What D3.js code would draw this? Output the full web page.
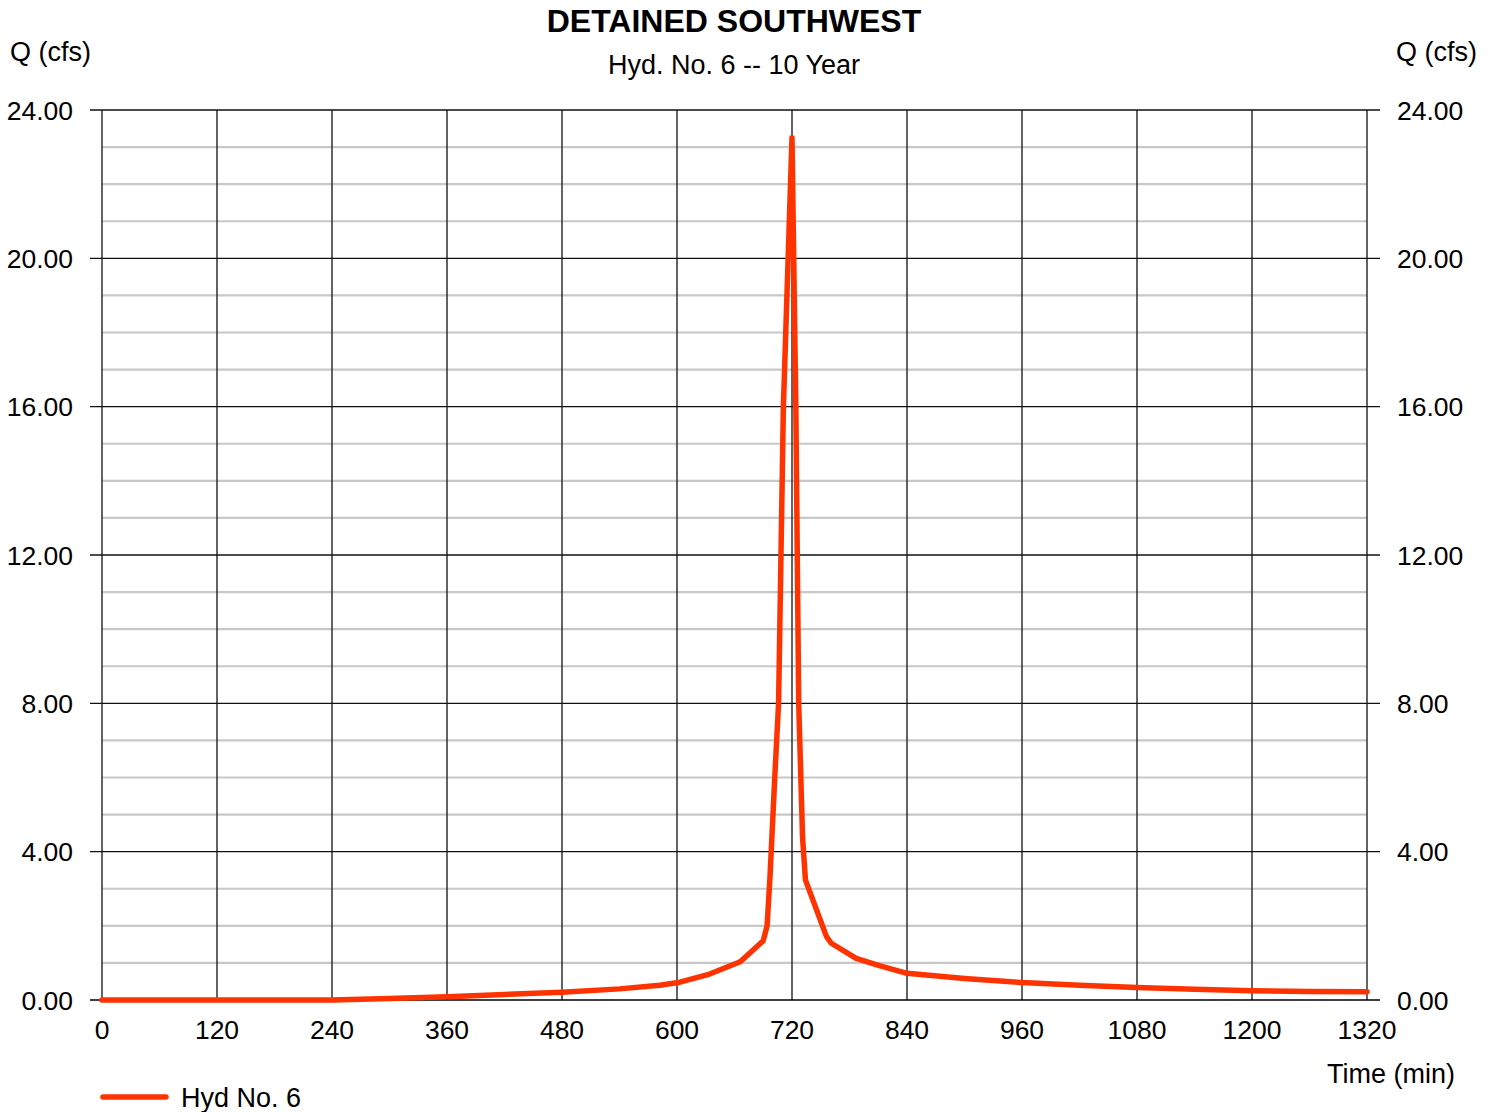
<!DOCTYPE html>
<html>
<head>
<meta charset="utf-8">
<script src="https://cdn.jsdelivr.net/npm/d3@7"></script>
<style>
  html, body { margin: 0; padding: 0; background: #fff; }
  svg { display: block; font-family: "Liberation Sans", Arial, sans-serif; }
</style>
</head>
<body>
<svg id="chart" width="1497" height="1112"></svg>
<script>
// ---- data ----
const times = [0, 120, 240, 300, 360, 420, 480, 540, 582, 603, 634, 666, 690, 694, 697, 702, 706, 711, 720, 724, 727, 731, 734, 756, 761, 787, 812, 840, 900, 960, 1020, 1080, 1140, 1200, 1260, 1320];
const flows = [0, 0, 0, 0.04, 0.09, 0.15, 0.21, 0.30, 0.40, 0.48, 0.70, 1.03, 1.6, 2.0, 3.3, 6.0, 8.0, 16.0, 23.25, 16.0, 8.0, 4.4, 3.24, 1.71, 1.53, 1.12, 0.92, 0.72, 0.58, 0.47, 0.40, 0.34, 0.29, 0.25, 0.23, 0.22];
const xTicks = [0, 120, 240, 360, 480, 600, 720, 840, 960, 1080, 1200, 1320];
const yTicks = [0, 4, 8, 12, 16, 20, 24];
const yMinor = [1, 2, 3, 5, 6, 7, 9, 10, 11, 13, 14, 15, 17, 18, 19, 21, 22, 23];
const title = "DETAINED SOUTHWEST";
const subtitle = "Hyd. No. 6 -- 10 Year";
const yLabel = "Q (cfs)";
const xLabel = "Time (min)";
const seriesName = "Hyd No. 6";
const lineColor = "#ff3300";

// ---- layout ----
const svg = d3.select("#chart");
const L = 102, R = 1367, T = 110, B = 1000;
const x = d3.scaleLinear().domain([0, 1320]).range([L, R]);
const y = d3.scaleLinear().domain([0, 24]).range([B, T]);

// minor horizontal grid
svg.append("g").selectAll("line").data(yMinor).join("line")
  .attr("x1", L).attr("x2", R)
  .attr("y1", d => y(d)).attr("y2", d => y(d))
  .attr("stroke", "#c8c8c8").attr("stroke-width", 2.2);

// vertical grid
svg.append("g").selectAll("line").data(xTicks).join("line")
  .attr("x1", d => x(d)).attr("x2", d => x(d))
  .attr("y1", T).attr("y2", B)
  .attr("stroke", "#222").attr("stroke-width", 1.4);

// major horizontal grid (with outward ticks)
svg.append("g").selectAll("line").data(yTicks).join("line")
  .attr("x1", L - 12).attr("x2", R + 13)
  .attr("y1", d => y(d)).attr("y2", d => y(d))
  .attr("stroke", d => d === 0 ? "#000" : "#111")
  .attr("stroke-width", d => (d === 24 ? 1.6 : 1.3));

// left y labels
svg.append("g").selectAll("text").data(yTicks).join("text")
  .attr("x", 73).attr("y", d => y(d) + 9.5)
  .attr("text-anchor", "end").attr("font-size", 26.5)
  .text(d => d3.format(".2f")(d));

// right y labels
svg.append("g").selectAll("text").data(yTicks).join("text")
  .attr("x", 1397).attr("y", d => y(d) + 9.5)
  .attr("text-anchor", "start").attr("font-size", 26.5)
  .text(d => d3.format(".2f")(d));

// x labels
svg.append("g").selectAll("text").data(xTicks).join("text")
  .attr("x", d => x(d)).attr("y", 1039)
  .attr("text-anchor", "middle").attr("font-size", 26.5)
  .text(d => d);

// hydrograph line
const pts = times.map((t, i) => [t, flows[i]]);
const lineGen = d3.line().x(d => x(d[0])).y(d => y(d[1])).curve(d3.curveLinear);
svg.append("path").datum(pts)
  .attr("fill", "none").attr("stroke", lineColor)
  .attr("stroke-width", 5.5).attr("stroke-linejoin", "round").attr("stroke-linecap", "round")
  .attr("d", lineGen);

// titles
svg.append("text").attr("x", 734).attr("y", 32).attr("text-anchor", "middle")
  .attr("font-size", 32).attr("font-weight", "bold").text(title);
svg.append("text").attr("x", 734).attr("y", 74).attr("text-anchor", "middle")
  .attr("font-size", 27).text(subtitle);

// axis titles
svg.append("text").attr("x", 10).attr("y", 61).attr("font-size", 27).text(yLabel);
svg.append("text").attr("x", 1477).attr("y", 61).attr("text-anchor", "end").attr("font-size", 27).text(yLabel);
svg.append("text").attr("x", 1455).attr("y", 1083).attr("text-anchor", "end").attr("font-size", 27).text(xLabel);

// legend
svg.append("line").attr("x1", 103).attr("x2", 166).attr("y1", 1097).attr("y2", 1097)
  .attr("stroke", lineColor).attr("stroke-width", 5.5).attr("stroke-linecap", "round");
svg.append("text").attr("x", 181).attr("y", 1107).attr("font-size", 27).text(seriesName);
</script>
</body>
</html>
